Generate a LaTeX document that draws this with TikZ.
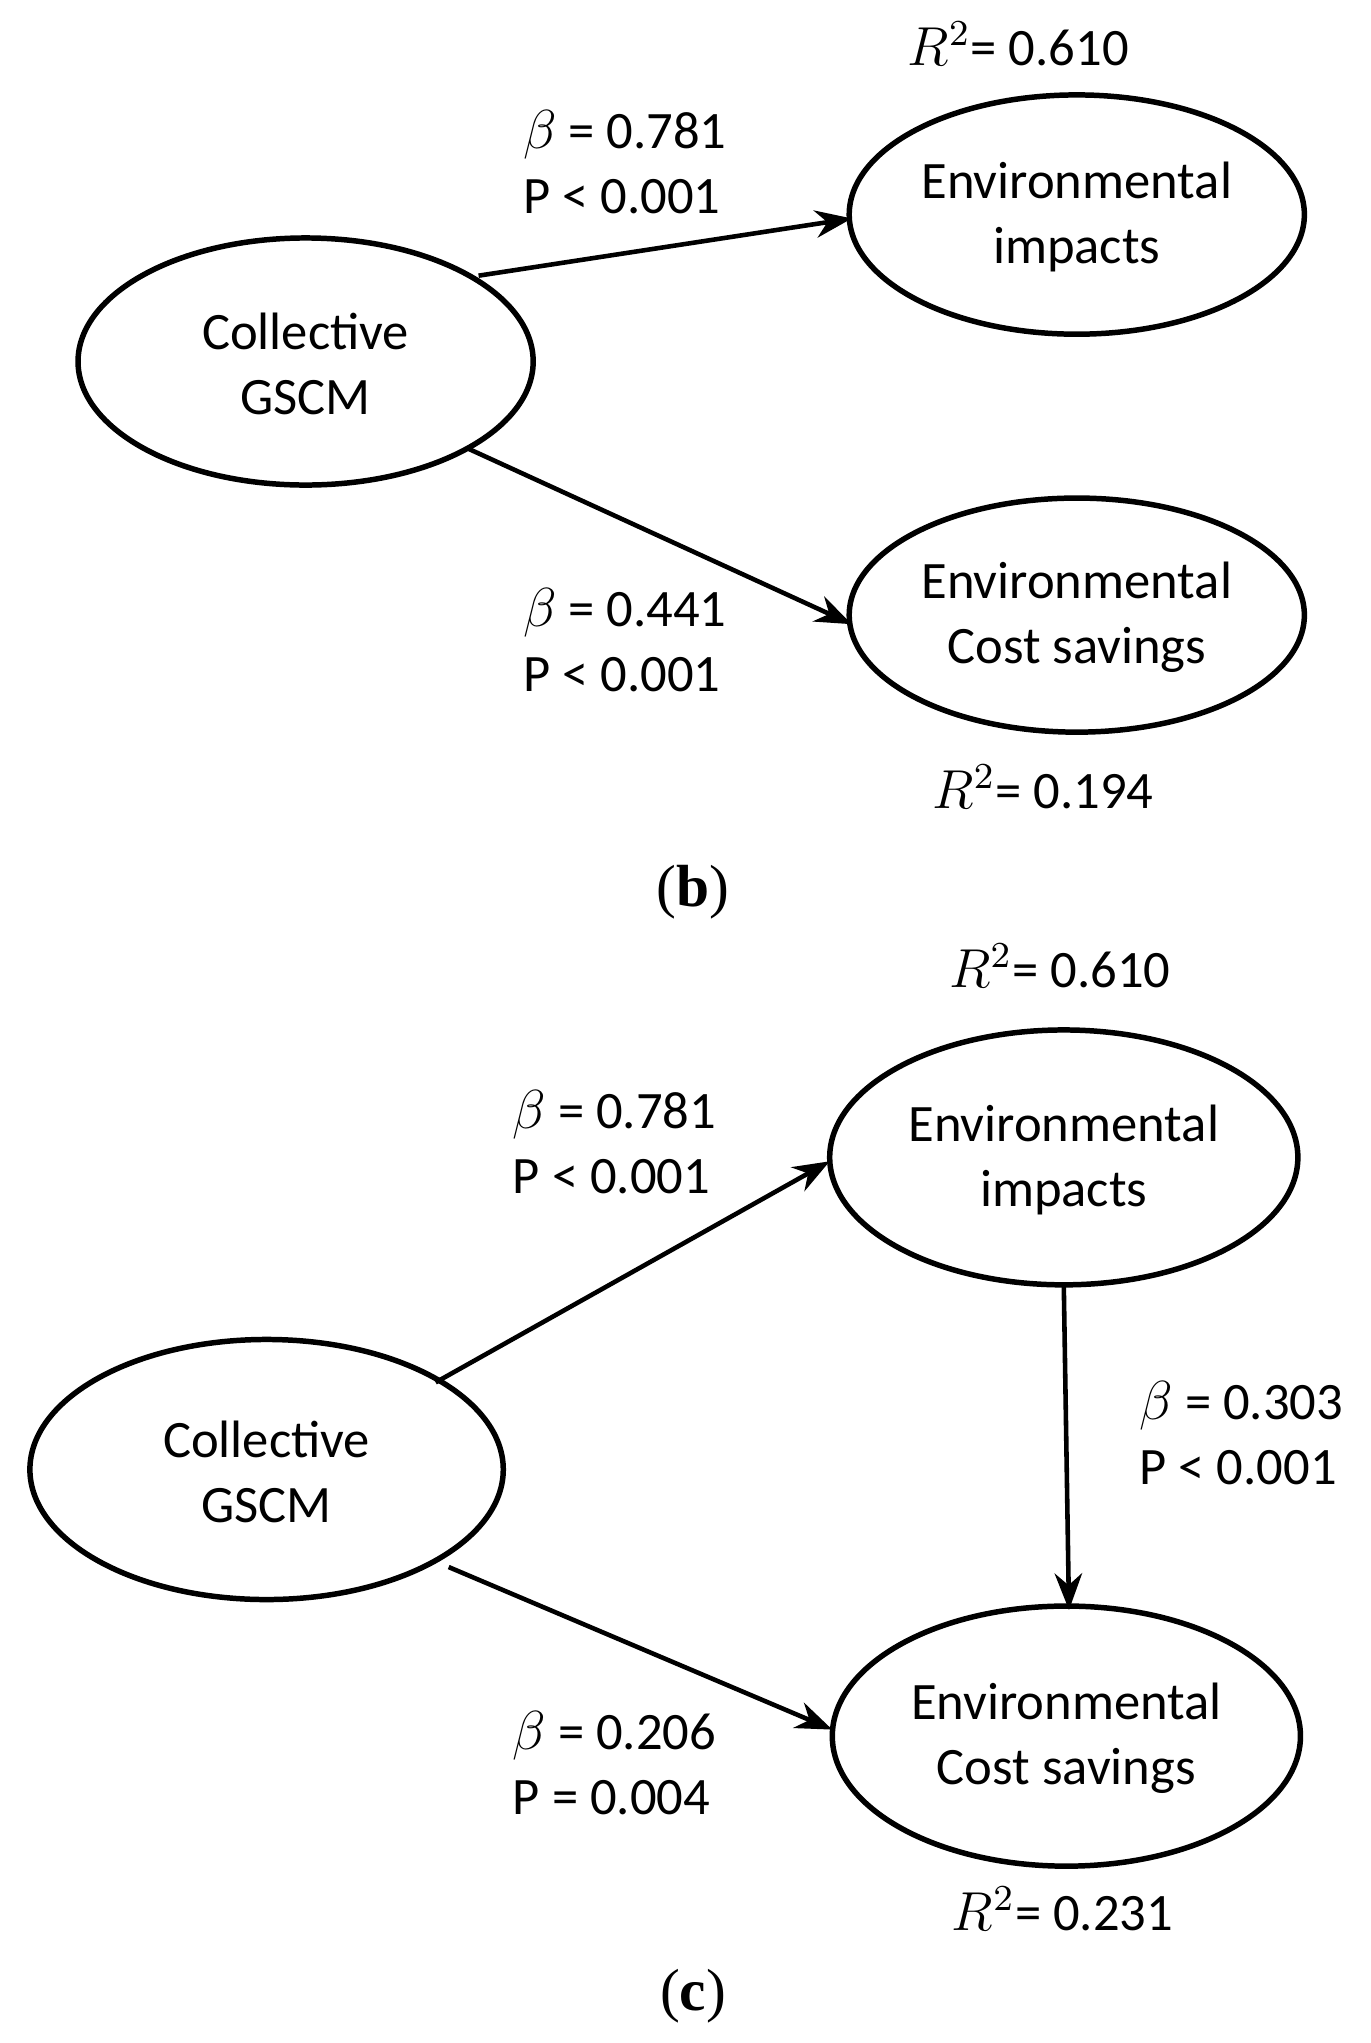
\documentclass[tikz,border=0pt]{standalone}
\usepackage{fontspec}
\setmainfont{Carlito}
\newfontfamily\serifx{Liberation Serif}
\usetikzlibrary{arrows.meta}
\begin{document}
\begin{tikzpicture}[x=0.01cm,y=-0.01cm,
  lat/.style={draw,line width=1.2pt,ellipse,minimum width=2*#1,inner sep=0pt},
  arr/.style={line width=1pt,-{Stealth[length=8pt,width=6pt]}},
  lab/.style={align=left,anchor=west,font=\fontsize{11.5pt}{14.2pt}\selectfont},
  txt/.style={align=center,font=\fontsize{11.5pt}{14.2pt}\selectfont}]
\useasboundingbox (0,0) rectangle (1054,1571);
\tikzset{el/.style n args={2}{draw,line width=1.2pt}}
% (b)
\draw[line width=1.2pt] (235,278) ellipse [x radius=175,y radius=95];
\draw[line width=1.2pt] (828,165) ellipse [x radius=175,y radius=92];
\draw[line width=1.2pt] (828,473) ellipse [x radius=175,y radius=90];
\node[txt] (b1) at (235,280) {Collective\\GSCM};
\node[txt] (b2) at (828,167) {Environmental\\impacts};
\node[txt] (b3) at (828,475) {Environmental\\Cost savings};
\coordinate (b1a) at (368,212); \coordinate (b2a) at (655,168);
\coordinate (b1b) at (360,345); \coordinate (b3a) at (655,480);
\draw[arr] (b1a) -- (b2a);
\draw[arr] (b1b) -- (b3a);
\node[lab] (l1) at (390,125) {$\beta$ = 0.781\\P < 0.001};
\node[lab] (l2) at (390,492) {$\beta$ = 0.441\\P < 0.001};
\node[txt] (r1) at (783,34) {$R^2$= 0.610};
\node[txt] (r2) at (802,605) {$R^2$= 0.194};
\node[txt,font=\serifx\fontsize{13pt}{15pt}\selectfont] (cb) at (533,686) {(\textbf{b})};
% (c)
\draw[line width=1.2pt] (205,1130) ellipse [x radius=182,y radius=100];
\draw[line width=1.2pt] (818,890) ellipse [x radius=180,y radius=98];
\draw[line width=1.2pt] (820,1335) ellipse [x radius=180,y radius=100];
\node[txt] (c1) at (205,1132) {Collective\\GSCM};
\node[txt] (c2) at (818,892) {Environmental\\impacts};
\node[txt] (c3) at (820,1337) {Environmental\\Cost savings};
\coordinate (c1a) at (335,1063); \coordinate (c2a) at (638,893);
\coordinate (c1b) at (345,1205); \coordinate (c3a) at (640,1330);
\coordinate (c2b) at (818,988); \coordinate (c3b) at (822,1238);
\draw[arr] (c1a) -- (c2a);
\draw[arr] (c1b) -- (c3a);
\draw[arr] (c2b) -- (c3b);
\node[lab] (m1) at (382,878) {$\beta$ = 0.781\\P < 0.001};
\node[lab] (m2) at (382,1356) {$\beta$ = 0.206\\P = 0.004};
\node[lab] (m3) at (864,1102) {$\beta$ = 0.303\\P < 0.001};
\node[txt] (s1) at (815,743) {$R^2$= 0.610};
\node[txt] (s2) at (817,1468) {$R^2$= 0.231};
\node[txt,font=\serifx\fontsize{13pt}{15pt}\selectfont] (cc) at (533,1535) {(\textbf{c})};
\end{tikzpicture}
\end{document}
